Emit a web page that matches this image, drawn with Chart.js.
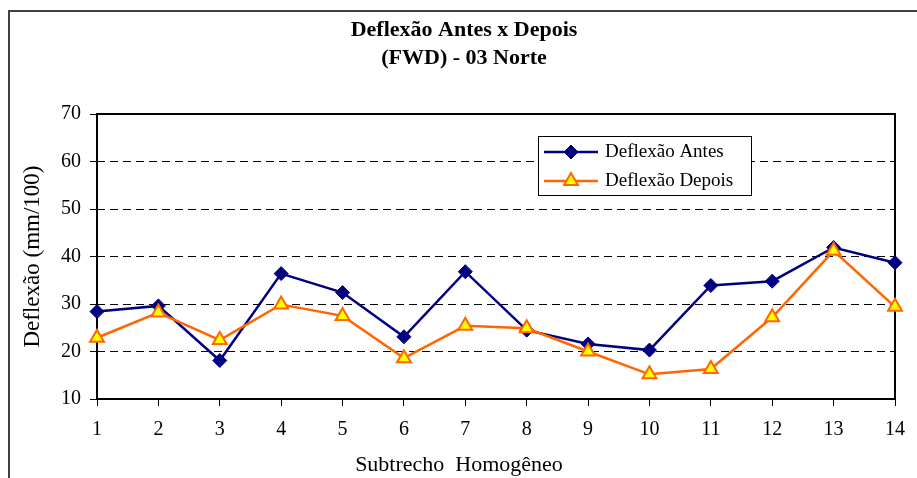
<!DOCTYPE html>
<html lang="pt-br">
<head>
  <meta charset="UTF-8">
  <title>Deflexão Antes x Depois</title>
  <script src="https://cdn.jsdelivr.net/npm/chart.js"></script>
  <style>
    html, body { margin: 0; padding: 0; background: #fff; }
    #grafico { display: block; }
  </style>
</head>
<body>
  <canvas id="grafico" width="917" height="478"></canvas>

<script>
  // dados
  var subtrechos = ['1', '2', '3', '4', '5', '6', '7', '8', '9', '10', '11', '12', '13', '14'];
  var deflexaoAntes = [28.4, 29.6, 18.1, 36.4, 32.4, 23.1, 36.8, 24.5, 21.6, 20.3, 33.9, 34.8, 41.9, 38.7];
  var deflexaoDepois = [22.9, 28.2, 22.4, 29.9, 27.5, 18.6, 25.4, 24.9, 20.0, 15.2, 16.3, 27.2, 41.2, 29.4];
  var nomesSeries = ['Deflexão Antes', 'Deflexão Depois'];
  var titulo = ['Deflexão Antes x Depois', '(FWD) - 03 Norte'];
  var tituloX = 'Subtrecho  Homogêneo';
  var tituloY = 'Deflexão (mm/100)';

  var fonte = "'Liberation Serif', 'Times New Roman', serif";

  // moldura externa, borda da área do gráfico, legenda e título do eixo X
  var pluginMoldura = {
    id: 'moldura',
    beforeDraw: function (chart) {
      var ctx = chart.ctx;
      ctx.save();
      ctx.fillStyle = '#fff';
      ctx.fillRect(0, 0, chart.width, chart.height);
      ctx.strokeStyle = '#404040';
      ctx.lineWidth = 2;
      ctx.beginPath();
      ctx.moveTo(9, chart.height);
      ctx.lineTo(9, 11);
      ctx.lineTo(chart.width, 11);
      ctx.stroke();
      ctx.restore();
    },
    beforeDatasetsDraw: function (chart) {
      var ctx = chart.ctx;
      var a = chart.chartArea;
      ctx.save();
      ctx.strokeStyle = '#000';
      ctx.lineWidth = 2;
      ctx.strokeRect(a.left, a.top, a.right - a.left, a.bottom - a.top);

      // legenda dentro da área
      var lx = 538, ly = 136, lw = 213, lh = 59;
      ctx.fillStyle = '#fff';
      ctx.fillRect(lx, ly, lw, lh);
      ctx.lineWidth = 1;
      ctx.strokeStyle = '#000';
      ctx.strokeRect(lx + 0.5, ly + 0.5, lw, lh);
      ctx.font = '19px ' + fonte;
      ctx.textBaseline = 'middle';
      ctx.textAlign = 'left';
      var linhas = [152, 181];
      for (var i = 0; i < chart.data.datasets.length; i++) {
        var ds = chart.data.datasets[i];
        var y = linhas[i];
        ctx.strokeStyle = ds.borderColor;
        ctx.lineWidth = ds.borderWidth;
        ctx.beginPath();
        ctx.moveTo(544, y);
        ctx.lineTo(598, y);
        ctx.stroke();
        ctx.fillStyle = ds.pointBackgroundColor;
        ctx.strokeStyle = ds.pointBorderColor;
        ctx.lineWidth = ds.pointBorderWidth;
        Chart.helpers.drawPoint(ctx, {
          pointStyle: ds.pointStyle,
          radius: ds.pointRadius,
          rotation: 0,
          borderWidth: ds.pointBorderWidth
        }, 571, y);
        ctx.fillStyle = '#000';
        ctx.fillText(ds.label, 605, y);
      }

      // título do eixo X
      ctx.font = '22px ' + fonte;
      ctx.textAlign = 'center';
      ctx.fillStyle = '#000';
      ctx.fillText(tituloX, 459, 465);
      ctx.restore();
    }
  };

  var ctx = document.getElementById('grafico').getContext('2d');
  var myChart = new Chart(ctx, {
    type: 'line',
    data: {
      labels: subtrechos,
      datasets: [{
        label: nomesSeries[0],
        data: deflexaoAntes,
        borderColor: '#000080',
        backgroundColor: '#000080',
        borderWidth: 2.5,
        pointStyle: 'rectRot',
        pointRadius: 7,
        pointBackgroundColor: '#000080',
        pointBorderColor: '#000080',
        pointBorderWidth: 1,
        tension: 0,
        order: 1
      }, {
        label: nomesSeries[1],
        data: deflexaoDepois,
        borderColor: '#FF6600',
        backgroundColor: '#FFFF00',
        borderWidth: 2.5,
        pointStyle: 'triangle',
        pointRadius: 8,
        pointBackgroundColor: '#FFFF00',
        pointBorderColor: '#FF6600',
        pointBorderWidth: 2,
        tension: 0,
        order: 0
      }]
    },
    options: {
      responsive: false,
      animation: false,
      layout: { padding: { left: 31, right: 20, top: 0, bottom: 0 } },
      plugins: {
        legend: { display: false },
        tooltip: { enabled: false },
        title: {
          display: true,
          text: titulo,
          color: '#000',
          font: { family: fonte, size: 22, weight: 'bold', lineHeight: '28px' },
          padding: { top: 16, bottom: 42 }
        }
      },
      scales: {
        x: {
          offset: false,
          afterFit: function (scale) { scale.height = 79; },
          grid: {
            drawOnChartArea: false,
            drawTicks: true,
            tickLength: 7,
            tickColor: '#000',
            tickWidth: 1
          },
          border: { display: false },
          ticks: {
            color: '#000',
            padding: 12,
            maxRotation: 0,
            autoSkip: false,
            font: { family: fonte, size: 20 }
          }
        },
        y: {
          min: 10,
          max: 70,
          afterFit: function (scale) { scale.width = 66; },
          grid: {
            color: '#000',
            lineWidth: 1,
            drawTicks: true,
            tickLength: 7,
            tickColor: '#000',
            tickWidth: 1,
            tickBorderDash: []
          },
          border: { display: false, dash: [8, 5] },
          ticks: {
            stepSize: 10,
            color: '#000',
            padding: 9,
            font: { family: fonte, size: 20 }
          },
          title: {
            display: true,
            text: tituloY,
            color: '#000',
            font: { family: fonte, size: 23 },
            padding: { top: -12, bottom: 0 }
          }
        }
      }
    },
    plugins: [pluginMoldura]
  });
</script>
</body>
</html>
